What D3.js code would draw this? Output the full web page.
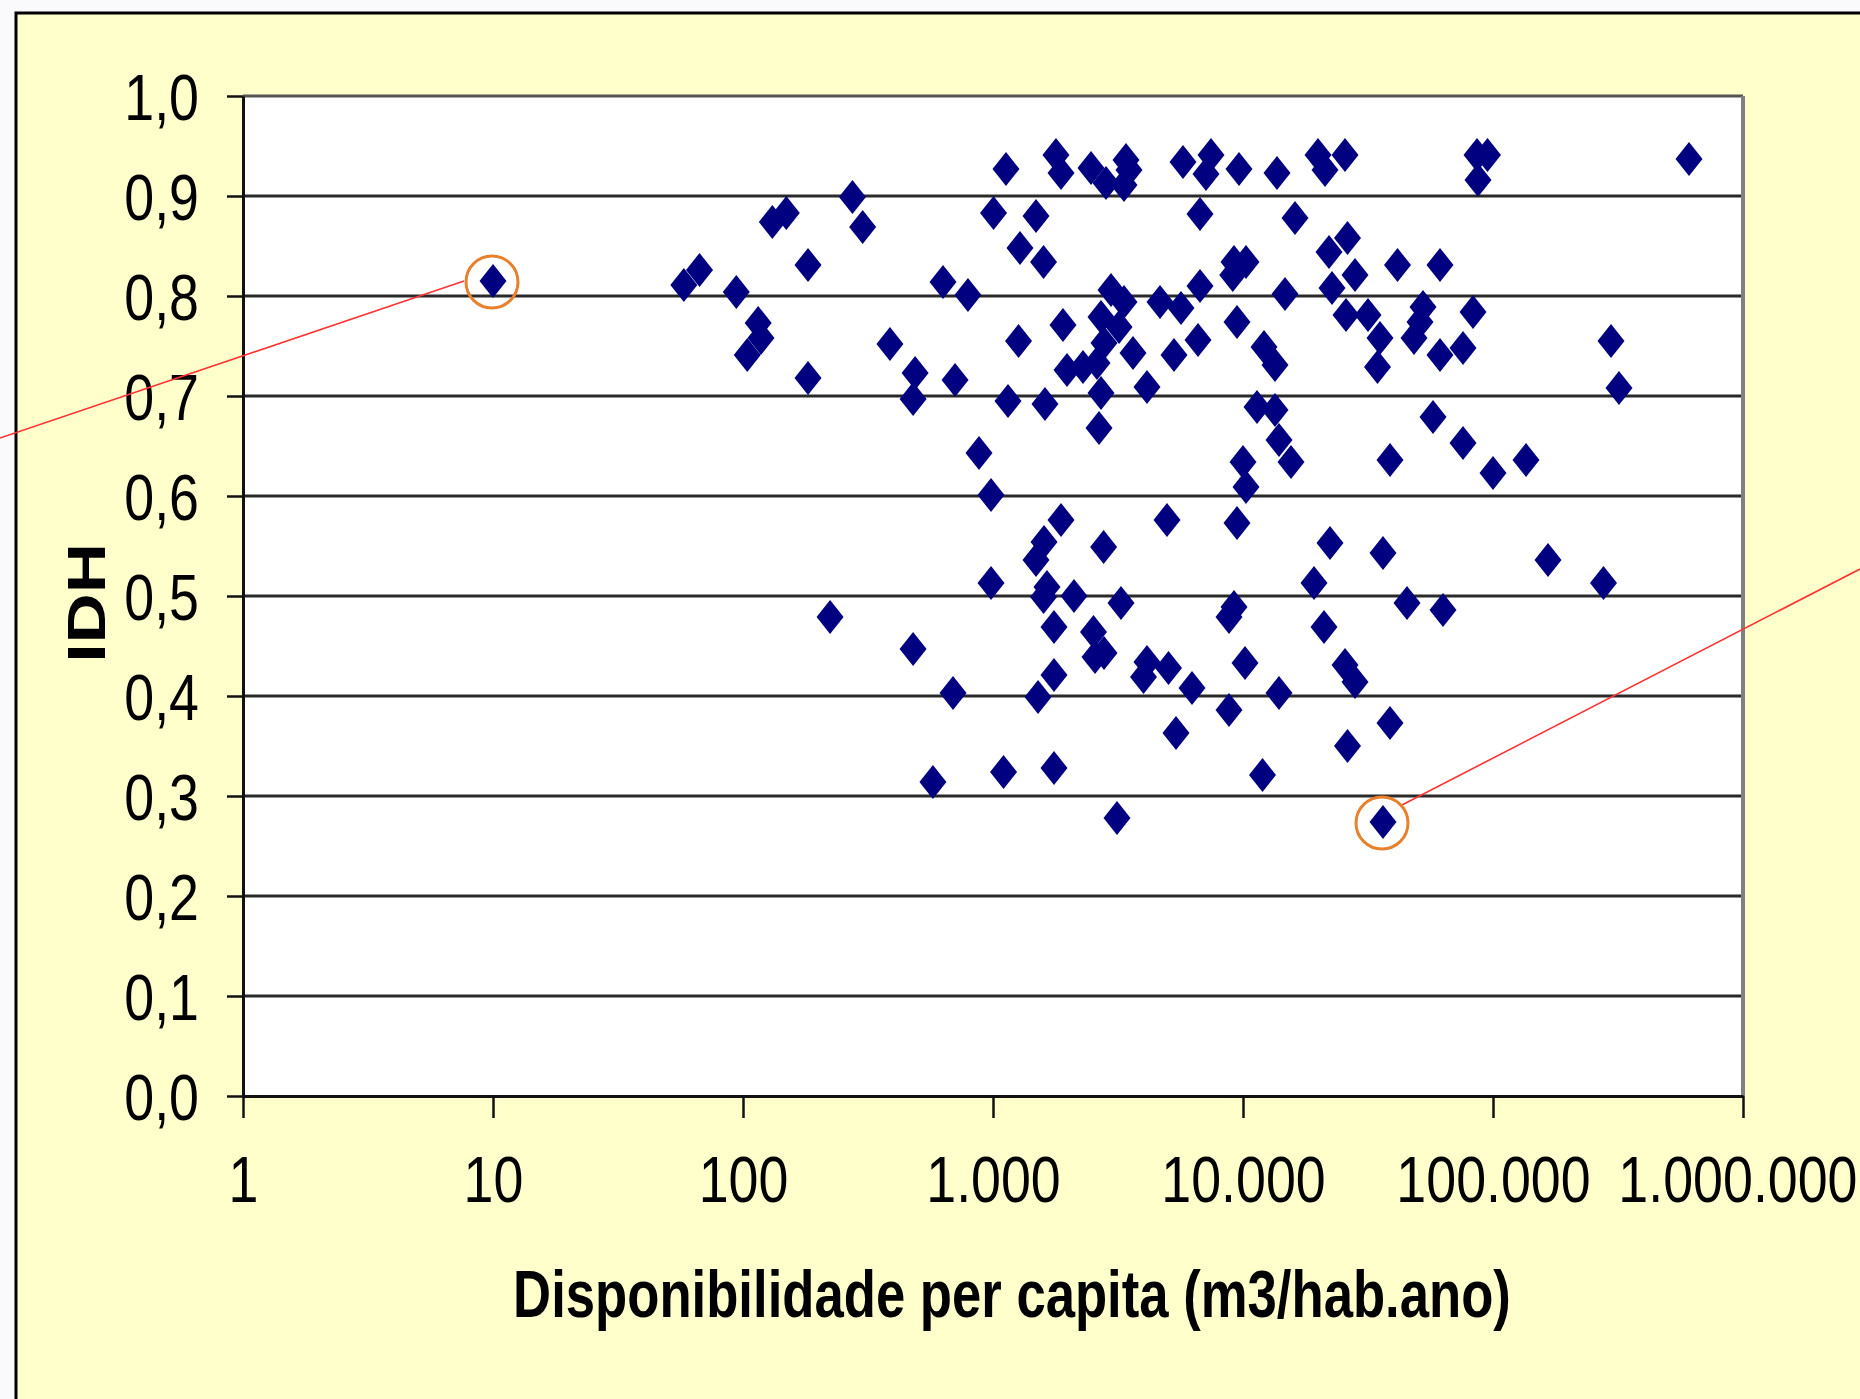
<!DOCTYPE html>
<html><head><meta charset="utf-8">
<script src="https://cdn.jsdelivr.net/npm/d3@7"></script>
<style>html,body{margin:0;padding:0;background:#faf9fb;overflow:hidden}</style>
</head><body><svg id="c" width="1860" height="1399"></svg>
<script>
// ---- DATA ----
const disponibilidade = [
  10,
  58, 67, 94, 115, 118, 104, 131, 149, 182, 182,
  274, 301, 387, 488, 479, 631, 794, 705, 879, 982,
  1127, 1005, 1486, 1282, 1593, 1265, 1148, 1614, 1786, 1871,
  2466, 2831, 3404, 3499, 3342, 5754, 1905, 2965, 3342, 2704,
  3192, 2780, 1977, 2291, 2606, 2704, 2655, 3631, 4130, 4656,
  5649, 5297,
  7447, 7112, 9638, 13677, 19953, 21281, 25586, 86298, 95060, 87096,
  608135, 6730, 16144, 9204, 10280, 9100, 22080, 26182, 28054, 22699,
  41495, 61376, 6730, 14723, 9462, 6607, 12134, 13428, 25823, 31623,
  35318, 34514, 52481, 51050, 48306, 61376, 75858, 83176, 296483, 319154,
  11376, 13428, 13932, 15560, 10000, 10280, 57544, 75858, 38726, 100000, 135519,
  1871, 1600, 1486, 2770, 4966, 982, 1644, 1593, 2109, 3251,
  223, 479, 1754, 2523, 2780, 2559, 1754, 1514, 692, 4130,
  4000, 5035, 6252, 5395, 575, 1102, 1754, 3133,
  9462, 22284, 36308, 165959, 276694, 19231, 9204, 8790, 45290, 63096,
  21086, 10186, 25586, 28054, 13932, 8790, 38726, 26182, 11967, 36308
];
const idh = [
  0.815,
  0.811, 0.826, 0.804, 0.773, 0.758, 0.741, 0.874, 0.883, 0.831, 0.718,
  0.899, 0.869, 0.752, 0.723, 0.697, 0.814, 0.801, 0.716, 0.643, 0.601,
  0.927, 0.883, 0.880, 0.848, 0.834, 0.755, 0.695, 0.692, 0.941, 0.923,
  0.928, 0.913, 0.936, 0.926, 0.911, 0.934, 0.771, 0.806, 0.794, 0.779,
  0.769, 0.753, 0.726, 0.729, 0.733, 0.703, 0.668, 0.743, 0.709, 0.794,
  0.788, 0.741,
  0.941, 0.922, 0.927, 0.923, 0.941, 0.926, 0.941, 0.941, 0.941, 0.916,
  0.937, 0.882, 0.878, 0.834, 0.834, 0.821, 0.844, 0.858, 0.821, 0.808,
  0.831, 0.831, 0.810, 0.802, 0.774, 0.756, 0.749, 0.731, 0.781, 0.781,
  0.758, 0.729, 0.789, 0.774, 0.758, 0.741, 0.748, 0.784, 0.755, 0.708,
  0.689, 0.686, 0.656, 0.634, 0.634, 0.609, 0.679, 0.653, 0.636, 0.623, 0.636,
  0.576, 0.554, 0.536, 0.549, 0.576, 0.513, 0.509, 0.499, 0.500, 0.493,
  0.479, 0.447, 0.469, 0.464, 0.443, 0.439, 0.421, 0.399, 0.403, 0.434,
  0.419, 0.428, 0.408, 0.363, 0.314, 0.324, 0.328, 0.278,
  0.573, 0.553, 0.543, 0.536, 0.513, 0.513, 0.489, 0.479, 0.493, 0.486,
  0.469, 0.433, 0.431, 0.414, 0.403, 0.386, 0.373, 0.350, 0.321, 0.274
];
const yTicks = [0, 0.1, 0.2, 0.3, 0.4, 0.5, 0.6, 0.7, 0.8, 0.9, 1.0];
const xTicks = [1, 10, 100, 1000, 10000, 100000, 1000000];
const xTickLabels = ["1", "10", "100", "1.000", "10.000", "100.000", "1.000.000"];
const destaques = [0, 151];   // pontos circulados
const xTitle = "Disponibilidade per capita (m3/hab.ano)";
const yTitle = "IDH";

// ---- LAYOUT ----
const W = 1860, H = 1399;
const M = {left: 243, right: 1743, top: 96, bottom: 1096};
const FONT = "'Liberation Sans', Arial, Helvetica, sans-serif";
const SX = 0.84;

const svg = d3.select('#c');
svg.append('rect').attr('width', W).attr('height', H).attr('fill', '#faf9fb');
svg.append('rect').attr('x', 16).attr('y', 13).attr('width', 1900).attr('height', 1450)
  .attr('fill', '#ffffcc').attr('stroke', '#000').attr('stroke-width', 3);

const x = d3.scaleLog().domain([1, 1e6]).range([M.left, M.right]);
const y = d3.scaleLinear().domain([0, 1]).range([M.bottom, M.top]);

svg.append('rect').attr('x', M.left).attr('y', M.top)
  .attr('width', M.right - M.left).attr('height', M.bottom - M.top).attr('fill', '#fff');

// gridlines
svg.append('g').selectAll('line').data(yTicks.filter(d => d > 0)).join('line')
  .attr('x1', M.left).attr('x2', M.right)
  .attr('y1', d => y(d)).attr('y2', d => y(d))
  .attr('stroke', d => d === 1 ? '#555' : '#2a2a2a').attr('stroke-width', 3);
// right border
svg.append('line').attr('x1', M.right).attr('x2', M.right).attr('y1', M.top).attr('y2', M.bottom)
  .attr('stroke', '#808080').attr('stroke-width', 4);

// y axis
const yAxis = d3.axisLeft(y).tickValues(yTicks).tickSize(16).tickSizeOuter(0).tickPadding(28)
  .tickFormat(d => d3.format('.1f')(d).replace('.', ','));
const gy = svg.append('g').attr('transform', `translate(${M.left},0)`).call(yAxis);
gy.select('.domain').attr('stroke', '#111').attr('stroke-width', 3);
gy.selectAll('.tick line').attr('stroke', '#111').attr('stroke-width', 2.5);
gy.selectAll('.tick text').attr('font-family', FONT).attr('font-size', 64).attr('fill', '#000')
  .attr('x', -44 / SX).attr('dy', '0.36em').attr('transform', `scale(${SX},1)`);

// x axis
const xAxis = d3.axisBottom(x).tickValues(xTicks).tickSize(22).tickSizeOuter(0)
  .tickFormat((d, i) => xTickLabels[i]);
const gx = svg.append('g').attr('transform', `translate(0,${M.bottom})`).call(xAxis);
gx.select('.domain').attr('stroke', '#111').attr('stroke-width', 3);
gx.selectAll('.tick line').attr('stroke', '#111').attr('stroke-width', 2.5);
gx.selectAll('.tick text').attr('font-family', FONT).attr('font-size', 64).attr('fill', '#000')
  .attr('y', 106).attr('dy', 0).attr('transform', `scale(${SX},1)`);
// keep the last label inside the page edge
gx.selectAll('.tick text').filter(d => d === xTicks[xTicks.length - 1])
  .attr('text-anchor', 'end').attr('x', (W - 3 - M.right) / SX);

// points
const diamond = (cx, cy) => `M${cx},${cy - 17}L${cx + 13.5},${cy}L${cx},${cy + 17}L${cx - 13.5},${cy}Z`;
svg.append('g').selectAll('path').data(d3.range(disponibilidade.length)).join('path')
  .attr('d', i => diamond(x(disponibilidade[i]), y(idh[i])))
  .attr('fill', '#000080');

// annotations
const annTargets = [[0, 438], [1860, 569]];
const annStart = [[-29, 0], [19, -17]];
const ann = svg.append('g');
destaques.forEach((idx, k) => {
  const cx = x(disponibilidade[idx]), cy = y(idh[idx]);
  ann.append('line').attr('x1', cx + annStart[k][0]).attr('y1', cy + annStart[k][1])
    .attr('x2', annTargets[k][0]).attr('y2', annTargets[k][1])
    .attr('stroke', '#ff3333').attr('stroke-width', 1.6);
  ann.append('circle').attr('cx', cx - 1).attr('cy', cy + 1).attr('r', 26)
    .attr('fill', 'none').attr('stroke', '#e8812d').attr('stroke-width', 3);
});

// titles
const t = svg.append('text').attr('font-family', FONT).attr('font-weight', 'bold')
  .attr('font-size', 67).attr('text-anchor', 'middle').attr('fill', '#000').text(xTitle);
const len = t.node().getComputedTextLength() || 1400;
t.attr('transform', `translate(1012,1317) scale(${998 / len},1)`);

svg.append('text').attr('font-family', FONT).attr('font-weight', 'bold')
  .attr('font-size', 53).attr('text-anchor', 'middle').attr('fill', '#000')
  .attr('transform', 'translate(105,603) rotate(-90) scale(1.31,1)').text(yTitle);
</script>
</body></html>
